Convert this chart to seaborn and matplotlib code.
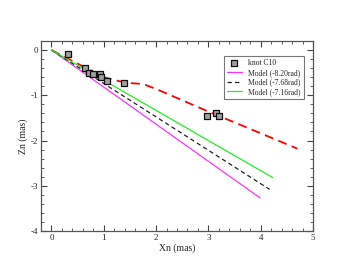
import numpy as np
import pandas as pd
import matplotlib
matplotlib.use("Agg")
import matplotlib.pyplot as plt
import seaborn as sns
from matplotlib.ticker import MultipleLocator

sns.set_style("ticks")
plt.rcParams['font.family'] = ['Liberation Serif', 'DejaVu Serif']
plt.rcParams['axes.unicode_minus'] = False

# knot C10 observations
knot_x = [0.32, 0.65, 0.72, 0.80, 0.92, 0.95, 1.06, 1.39, 2.98, 3.14, 3.20]
knot_z = [-0.09, -0.39, -0.51, -0.53, -0.54, -0.59, -0.68, -0.72, -1.46, -1.40, -1.46]

# red dashed model path
red_x = [0.0, 0.5, 1.0, 1.3, 1.5, 1.75, 2.0, 2.5, 3.0, 3.5, 4.0, 4.7]
red_z = [0.0, -0.30, -0.60, -0.69, -0.73, -0.75, -0.86, -1.11, -1.36, -1.60, -1.84, -2.18]

# straight models
m820_x = [0.0, 3.99]
m820_z = [0.0, -3.27]
m768_x = [0.0, 4.17]
m768_z = [0.0, -3.08]
m716_x = [0.0, 4.23]
m716_z = [0.0, -2.82]

fig = plt.figure(figsize=(3.53, 2.73), dpi=100)
ax = fig.add_axes([41/353, 1-231/273, (313-41)/353, (231-41)/273])

sns.lineplot(x=red_x, y=red_z, ax=ax, color='red', lw=1.3, linestyle=(0, (5, 3)),
             sort=False, estimator=None)
sns.lineplot(x=m820_x, y=m820_z, ax=ax, color='#ff33ff', lw=0.9, label='Model (-8.20rad)',
             sort=False, estimator=None)
sns.lineplot(x=m768_x, y=m768_z, ax=ax, color='#222222', lw=0.9, linestyle=(0, (3.5, 2.5)),
             label='Model (-7.68rad)', sort=False, estimator=None)
sns.lineplot(x=m716_x, y=m716_z, ax=ax, color='#22ee22', lw=0.9, label='Model (-7.16rad)',
             sort=False, estimator=None)
sns.scatterplot(x=knot_x, y=knot_z, ax=ax, marker='s', s=22, color='#a0a0a0',
                edgecolor='#111111', linewidth=0.9, label='knot C10', zorder=5)

ax.set_xlim(-0.2, 5)
ax.set_ylim(-4, 0.2)
ax.xaxis.set_major_locator(MultipleLocator(1))
ax.xaxis.set_minor_locator(MultipleLocator(0.2))
ax.yaxis.set_major_locator(MultipleLocator(1))
ax.yaxis.set_minor_locator(MultipleLocator(0.2))
ax.tick_params(which='both', direction='in', top=True, right=True, labelsize=6.5,
               color='#444444', pad=2)
ax.tick_params(which='major', length=4, width=0.8)
ax.tick_params(which='minor', length=2, width=0.6)
for s in ax.spines.values():
    s.set_color('#555555')
    s.set_linewidth(0.9)
ax.set_xlabel('Xn (mas)', fontsize=7, labelpad=1)
ax.set_ylabel('Zn (mas)', fontsize=7, labelpad=2)

h, l = ax.get_legend_handles_labels()
order = [l.index(k) for k in ['knot C10', 'Model (-8.20rad)', 'Model (-7.68rad)', 'Model (-7.16rad)']]
leg = ax.legend([h[i] for i in order], [l[i] for i in order], loc='upper right',
                bbox_to_anchor=(0.98, 0.94), fontsize=5.5, frameon=True, fancybox=False,
                edgecolor='#555555', handlelength=2.0, borderpad=0.4, labelspacing=0.2,
                handletextpad=0.8)
leg.get_frame().set_linewidth(0.8)

fig.savefig('out.png', dpi=100)
